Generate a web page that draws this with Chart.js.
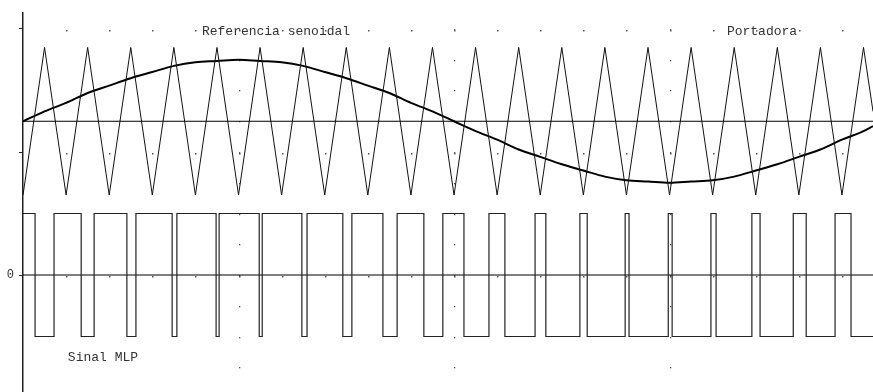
<!DOCTYPE html>
<html><head><meta charset="utf-8">
<script src="https://cdn.jsdelivr.net/npm/chart.js@4/dist/chart.umd.min.js"></script>
<style>html,body{margin:0;padding:0;background:#fff}#wrap{width:873px;height:392px;position:relative}</style>
</head><body><div id="wrap"><canvas id="c" width="873" height="392" style="width:873px;height:392px"></canvas></div>
<script>
// time axis (ms) sampled at carrier vertices
const timeMs = [0,0.5,1,1.5,2,2.5,3,3.5,4,4.5,5,5.5,6,6.5,7,7.5,8,8.5,9,9.5,10,10.5,11,11.5,12,12.5,13,13.5,14,14.5,15,15.5,16,16.5,17,17.5,18,18.5,19,19.5,19.72];
// Portadora (triangular carrier)
const carrierValues = [0.65,1.85,0.65,1.85,0.65,1.85,0.65,1.85,0.65,1.85,0.65,1.85,0.65,1.85,0.65,1.85,0.65,1.85,0.65,1.85,0.65,1.85,0.65,1.85,0.65,1.85,0.65,1.85,0.65,1.85,0.65,1.85,0.65,1.85,0.65,1.85,0.65,1.85,0.65,1.85,1.33];
// Referencia senoidal
const sineValues = [1.25,1.33,1.40,1.48,1.54,1.60,1.65,1.70,1.73,1.74,1.75,1.74,1.73,1.70,1.65,1.60,1.54,1.48,1.40,1.33,1.25,1.17,1.10,1.02,0.96,0.90,0.85,0.80,0.77,0.76,0.75,0.76,0.77,0.80,0.85,0.90,0.96,1.02,1.10,1.17,1.21];
// Sinal MLP switching instants (ms) and the level after each instant
const pwmSwitchTimes = [0,0.28,0.72,1.35,1.65,2.41,2.62,3.46,3.57,4.48,4.55,5.48,5.55,6.47,6.59,7.42,7.63,8.35,8.68,9.30,9.74,10.23,10.81,11.18,11.88,12.13,12.92,13.09,13.97,14.06,14.97,15.06,15.96,16.08,16.91,17.10,17.87,18.17,18.84,19.21,19.72];
const pwmLevels = [0.5,-0.5,0.5,-0.5,0.5,-0.5,0.5,-0.5,0.5,-0.5,0.5,-0.5,0.5,-0.5,0.5,-0.5,0.5,-0.5,0.5,-0.5,0.5,-0.5,0.5,-0.5,0.5,-0.5,0.5,-0.5,0.5,-0.5,0.5,-0.5,0.5,-0.5,0.5,-0.5,0.5,-0.5,0.5,-0.5,-0.5];
const referenceLevel = 1.25;
const zeroLevel = 0;
const timeRange = [0, 19.72];
const yRange = [-0.951, 2.13];
const yTickValues = [0, 1, 2];
const yTickLabels = ['0', '', ''];
const gridTimes = [1,2,3,4,5,6,7,8,9,10,11,12,13,14,15,16,17,18,19];
const majorGridTimes = [5,10,15];

const pts = (xs, ys) => xs.map((x, i) => ({x, y: ys[i]}));
const FONT = '"Liberation Mono", "Courier New", monospace';

const dotsPlugin = {
  id: 'dots',
  beforeDatasetsDraw(chart) {
    const {ctx, scales: {x, y}} = chart;
    ctx.save();
    ctx.fillStyle = '#555';
    gridTimes.forEach(t => {
      const px = Math.round(x.getPixelForValue(t));
      yTickValues.forEach(v => {
        ctx.fillRect(px, Math.round(y.getPixelForValue(v)) + 1, 1.5, 1.5);
      });
    });
    majorGridTimes.forEach(t => {
      const px = Math.round(x.getPixelForValue(t));
      for (let v = -0.75; v <= 2.01; v += 0.25) {
        ctx.fillRect(px, Math.round(y.getPixelForValue(v)), 1.3, 1.3);
      }
    });
    ctx.restore();
  }
};

const textPlugin = {
  id: 'texts',
  afterDatasetsDraw(chart, args, opts) {
    const {ctx, scales: {x, y}} = chart;
    ctx.save();
    ctx.font = '13px ' + FONT;
    ctx.fillStyle = '#333';
    ctx.textBaseline = 'middle';
    ctx.textAlign = 'left';
    opts.items.forEach(it => {
      ctx.fillText(it.text, x.getPixelForValue(it.t), y.getPixelForValue(it.v));
    });
    ctx.restore();
  }
};

new Chart(document.getElementById('c'), {
  type: 'line',
  data: {
    datasets: [
      {label: 'Sinal MLP', data: pts(pwmSwitchTimes, pwmLevels), stepped: 'before', borderColor: '#222', borderWidth: 1.2, pointRadius: 0},
      {label: 'zero', data: pts(timeRange, [zeroLevel, zeroLevel]), borderColor: '#000', borderWidth: 1, pointRadius: 0},
      {label: 'ref', data: pts(timeRange, [referenceLevel, referenceLevel]), borderColor: '#000', borderWidth: 1, pointRadius: 0},
      {label: 'Portadora', data: pts(timeMs, carrierValues), borderColor: '#111', borderWidth: 1, pointRadius: 0},
      {label: 'Referencia senoidal', data: pts(timeMs, sineValues), borderColor: '#000', borderWidth: 2, pointRadius: 0, cubicInterpolationMode: 'monotone'}
    ]
  },
  options: {
    responsive: false,
    animation: false,
    events: [],
    layout: {padding: {top: 13, left: 0, right: 0, bottom: 0}},
    plugins: {
      legend: {display: false},
      tooltip: {enabled: false},
      texts: {items: [
        {text: 'Referencia senoidal', t: 4.15, v: 1.976},
        {text: 'Portadora', t: 16.33, v: 1.976},
        {text: 'Sinal MLP', t: 1.04, v: -0.675}
      ]}
    },
    scales: {
      x: {type: 'linear', min: timeRange[0], max: timeRange[1], display: false},
      y: {
        type: 'linear', min: yRange[0], max: yRange[1],
        afterBuildTicks: s => { s.ticks = yTickValues.map(v => ({value: v})); },
        afterFit: s => { s.width = 23; s.paddingTop = 0; s.paddingBottom = 0; },
        ticks: {callback: (v) => yTickLabels[yTickValues.indexOf(v)] ?? '', font: {family: FONT, size: 12}, color: '#333', padding: 5, autoSkip: false},
        grid: {drawOnChartArea: false, drawTicks: true, tickLength: 4, tickColor: '#222', tickWidth: 1},
        border: {display: true, color: '#222', width: 1.5}
      }
    }
  },
  plugins: [dotsPlugin, textPlugin]
});
</script>
</body></html>
